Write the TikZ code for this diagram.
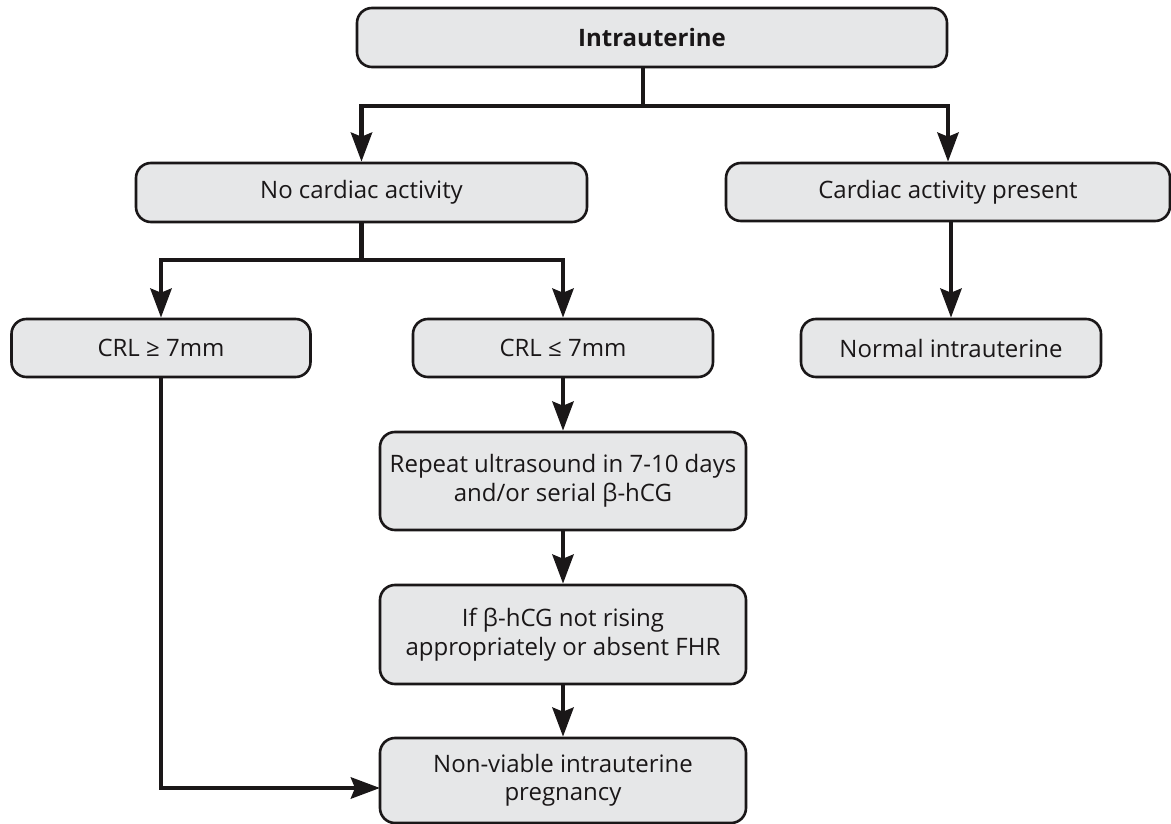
\documentclass[tikz,border=0pt]{standalone}
\usepackage{fontspec}
\setmainfont{Open Sans}
\usetikzlibrary{arrows.meta}
\definecolor{boxfill}{HTML}{E6E7E8}
\definecolor{ink}{HTML}{1A1718}
\begin{document}
\begin{tikzpicture}[x=1pt,y=-1pt,
  flowbox/.style={draw=ink, fill=boxfill, line width=2.6pt, rounded corners=15pt,
    inner sep=0pt, align=center, text=ink,
    font=\fontsize{24}{28.5}\selectfont},
  link/.style={draw=ink, line width=4.8pt},
  arr/.style={link, -{Stealth[length=29pt,width=21pt,inset=4pt]}}]
\useasboundingbox (0,0) rectangle (1171,824);

% boxes
\node[flowbox, minimum width=590pt, minimum height=59pt] (top) at (652,37.5) {\textbf{Intrauterine}};
\node[flowbox, minimum width=451pt, minimum height=59pt] (nocard) at (361.5,192.5) {No cardiac activity};
\node[flowbox, minimum width=444pt, minimum height=58pt] (cardp) at (948,192) {Cardiac activity present};
\node[flowbox, minimum width=299pt, minimum height=58pt] (crlge) at (161,348) {CRL ≥ 7mm};
\node[flowbox, minimum width=300pt, minimum height=58pt] (crlle) at (563,348) {CRL ≤ 7mm};
\node[flowbox, minimum width=300pt, minimum height=58pt] (normal) at (951,348) {Normal intrauterine};
\node[flowbox, minimum width=366pt, minimum height=98pt] (repeat) at (563,481) {Repeat ultrasound in 7-10 days\\and/or serial β-hCG};
\node[flowbox, minimum width=366pt, minimum height=99pt] (ifb) at (563,634.5) {If β-hCG not rising\\appropriately or absent FHR};
\node[flowbox, minimum width=366pt, minimum height=85pt] (nonv) at (563,780.5) {Non-viable intrauterine\\pregnancy};

% branch points
\coordinate (split1) at (643,106);
\coordinate (split2) at (361.5,260);
\coordinate (nvin) at (380,788);

% connectors
\draw[link] (split1 |- top.south) -- (split1);
\draw[arr] (split1) -| (nocard.north);
\draw[arr] (split1) -| (cardp.north);
\draw[link] (nocard.south) -- (split2);
\draw[arr] (split2) -| (crlge.north);
\draw[arr] (split2) -| (crlle.north);
\draw[arr] (cardp.south -| normal.north) -- (normal.north);
\draw[arr] (crlle.south) -- (repeat.north);
\draw[arr] (repeat.south) -- (ifb.north);
\draw[arr] (ifb.south) -- (nonv.north);
\draw[arr] (crlge.south) |- (nvin);
\end{tikzpicture}
\end{document}
